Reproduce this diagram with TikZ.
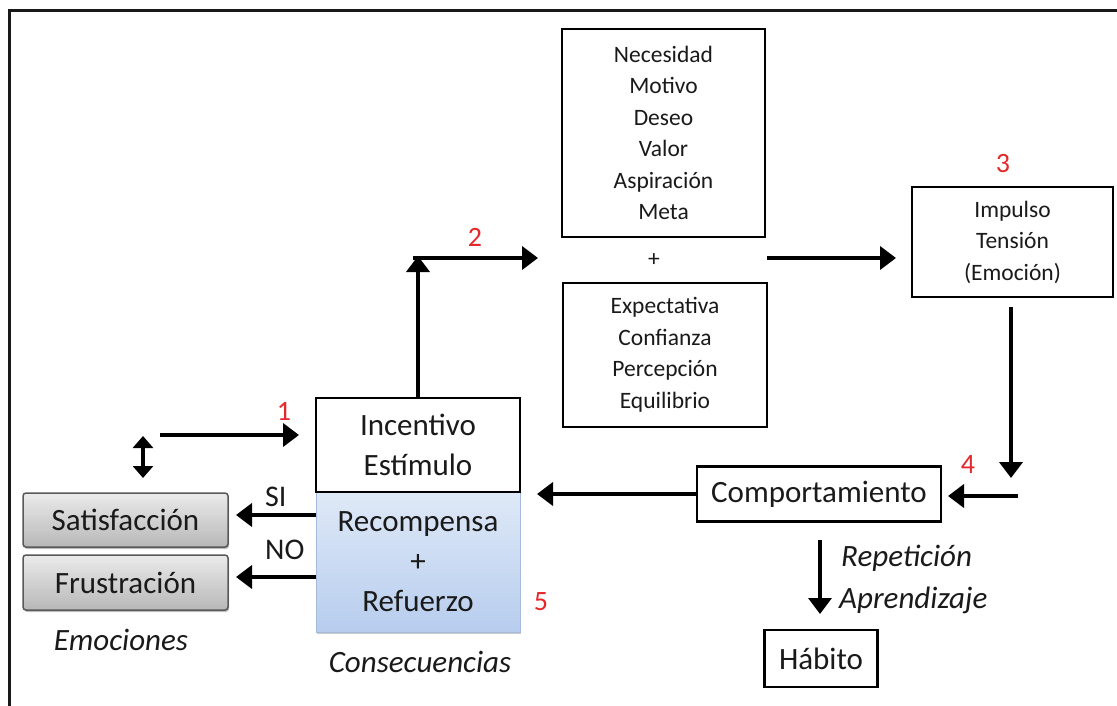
\documentclass[tikz,border=0pt]{standalone}
\usepackage{fontspec}
\setmainfont{Carlito}
\usetikzlibrary{arrows.meta,shadows}
\definecolor{txt}{HTML}{1A1A1A}
\definecolor{numred}{HTML}{E5292B}
\definecolor{bluetop}{HTML}{DFE9F7}
\definecolor{bluebot}{HTML}{B7CDEE}
\definecolor{blueline}{HTML}{A3BADB}
\begin{document}
\begin{tikzpicture}[x=1pt,y=-1pt,
  every node/.style={inner sep=0pt, text=txt},
  arr/.style={line width=4pt, draw=black, -{Triangle[length=16pt,width=23pt]}},
  arrthin/.style={line width=3.5pt, draw=black, -{Triangle[length=16pt,width=23pt]}},
  darr/.style={line width=4pt, draw=black, {Triangle[length=12pt,width=20pt]}-{Triangle[length=12pt,width=20pt]}},
  boxw/.style={draw=black, line width=2.5pt, fill=white, align=center},
  big/.style={font=\fontsize{31}{40}\selectfont, align=center},
  list/.style={font=\fontsize{23.5}{31.5}\selectfont, align=center},
  num/.style={text=numred, font=\fontsize{28}{30}\selectfont},
  ital/.style={font=\fontsize{31}{34}\selectfont\itshape},
  graybox/.style={draw=black!65, line width=1.5pt, rounded corners=3pt,
    top color=black!8, bottom color=black!28, minimum width=205pt,
    font=\fontsize{31}{34}\selectfont,
    drop shadow={opacity=0.25, shadow xshift=1pt, shadow yshift=-2pt, fill=black}},
  bluebox/.style={draw=blueline, line width=1pt, top color=bluetop, bottom color=bluebot,
    drop shadow={opacity=0.2, shadow xshift=1pt, shadow yshift=-2pt, fill=black}},
]
\useasboundingbox (0,0) rectangle (1117,706);
\fill[white] (0,0) rectangle (1117,706);
% outer frame (top and left edges)
\draw[line width=3pt, black!90] (9,706) -- (9,11) -- (1117,11);

% boxes
\node[boxw, list, minimum width=203pt, minimum height=208pt] (need) at (663.5,133)
  {Necesidad\\Motivo\\Deseo\\Valor\\Aspiración\\Meta};
\node[list] (plus) at (654,260) {+};
\node[boxw, list, minimum width=204pt, minimum height=144pt] (expe) at (665,355)
  {Expectativa\\Confianza\\Percepción\\Equilibrio};
\node[boxw, list, minimum width=201pt, minimum height=110pt] (imp) at (1012.5,242)
  {Impulso\\Tensión\\(Emoción)};
\node[boxw, big, minimum width=244pt, minimum height=55pt] (comp) at (819,494)
  {Comportamiento};
\node[boxw, big, minimum width=113pt, minimum height=57pt] (hab) at (821,658.5)
  {Hábito};
\node[bluebox, big, minimum width=204pt, minimum height=140pt] (rec) at (418,562)
  {Recompensa\\+\\Refuerzo};
\node[boxw, big, minimum width=204pt, minimum height=94pt] (inc) at (418,445)
  {Incentivo\\Estímulo};
\node[graybox, minimum height=54pt] (sat) at (125.5,520) {Satisfacción};
\node[graybox, minimum height=55pt] (fru) at (125.5,582.5) {Frustración};

% labels
\node[num] (n1) at (284,411) {1};
\node[num] (n2) at (475,237) {2};
\node[num] (n3) at (1003,164) {3};
\node[num] (n4) at (968,465) {4};
\node[num] (n5) at (541,602) {5};
\node[font=\fontsize{30}{32}\selectfont, anchor=west] (si) at (265,497) {SI};
\node[font=\fontsize{30}{32}\selectfont, anchor=west] (no) at (265,550) {NO};
\node[ital] (emo) at (121,640) {Emociones};
\node[ital] (cons) at (420,662) {Consecuencias};
\node[ital, anchor=west] (rep) at (841,558) {Repetición};
\node[ital, anchor=west] (apr) at (839,600) {Aprendizaje};

% coordinates for free arrow ends
\coordinate (a1s) at (160,435);
\coordinate (a1e) at (299,435);
\coordinate (d1) at (143,436);
\coordinate (d2) at (143,478);
\coordinate (up2) at (418,256);
\coordinate (h2s) at (413,258);
\coordinate (h2e) at (538,258);
\coordinate (h3s) at (767,258);
\coordinate (h3e) at (896,258);
\coordinate (v3s) at (1011,307);
\coordinate (v3e) at (1011,478);
\coordinate (c4s) at (1018,496);
\coordinate (c4e) at (948,496);
\coordinate (c5e) at (537,494);
\coordinate (siE) at (236,515);
\coordinate (noE) at (236,577);
\coordinate (hbs) at (820,540);
\coordinate (hbe) at (820,614);

% connectors
\draw[arr] (a1s) -- (a1e);
\draw[darr] (d1) -- (d2);
\draw[arr] (inc.north) -- (up2);
\draw[arr] (h2s) -- (h2e);
\draw[arr] (h3s) -- (h3e);
\draw[arr] (v3s) -- (v3e);
\draw[arr] (c4s) -- (c4e);
\draw[arr] (comp.west) -- (c5e);
\draw[arr] (rec.west |- siE) -- (siE);
\draw[arr] (rec.west |- noE) -- (noE);
\draw[arrthin] (hbs) -- (hbe);
\end{tikzpicture}
\end{document}
